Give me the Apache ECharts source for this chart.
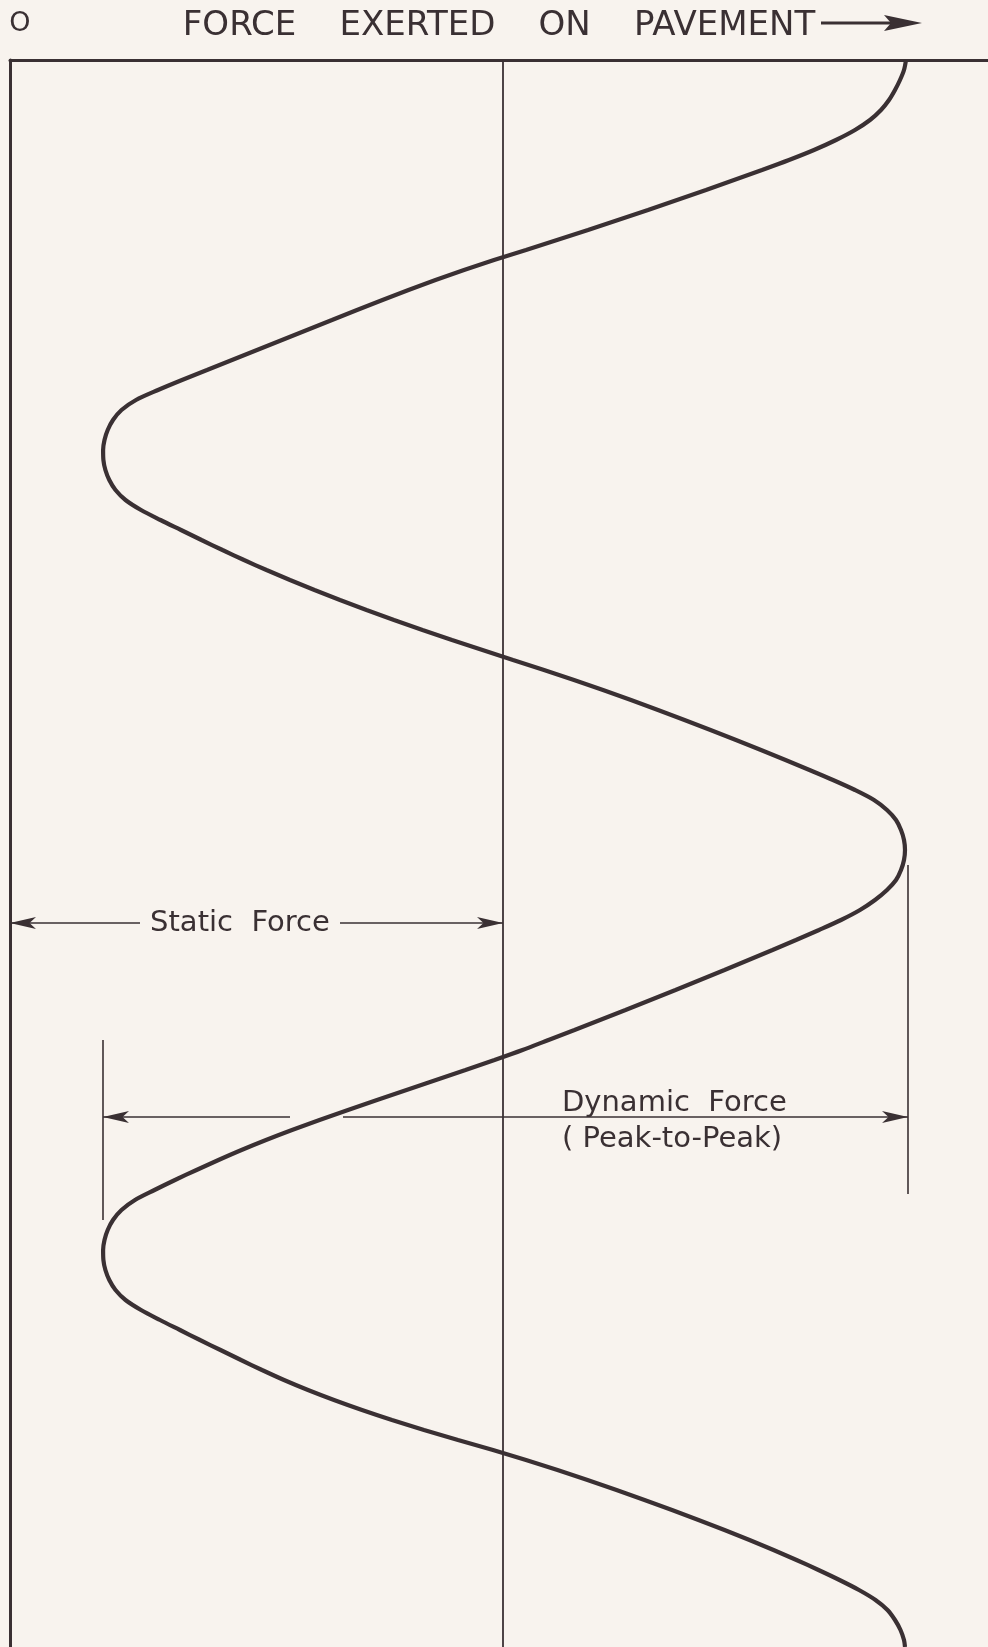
<!DOCTYPE html>
<html>
<head>
<meta charset="utf-8">
<title>Force exerted on pavement</title>
<script src="https://cdn.jsdelivr.net/npm/echarts@6/dist/echarts.min.js"></script>
<style>
html, body { margin: 0; padding: 0; background: #f8f3ee; }
#chart { width: 988px; height: 1647px; }
</style>
</head>
<body>
<div id="chart"></div>
<script>
var INK = '#3a3033';
var BG = '#f8f3ee';
var FONT = 'DejaVu Sans';

// force (static force = 493 units), time runs down the page
var time = [0, 10, 20, 30, 40, 50, 60, 70, 80, 90,
    100, 110, 120, 130, 140, 150, 160, 170, 180, 190,
    200, 210, 220, 230, 240, 250, 260, 270, 280, 290,
    300, 310, 320, 330, 340, 350, 360, 370, 380, 390,
    400, 410, 420, 430, 440, 450, 460, 470, 480, 490,
    500, 510, 520, 530, 540, 550, 560, 570, 580, 590,
    600, 610, 620, 630, 640, 650, 660, 670, 680, 690,
    700, 710, 720, 730, 740, 750, 760, 770, 780, 790,
    800, 810, 820, 830, 840, 850, 860, 870, 880, 890,
    900, 910, 920, 930, 940, 950, 960, 970, 980, 990,
    1000, 1010, 1020, 1030, 1040, 1050, 1060, 1070, 1080, 1090,
    1100, 1110, 1120, 1130, 1140, 1150, 1160, 1170, 1180, 1190,
    1200, 1210, 1220, 1230, 1240, 1250, 1260, 1270, 1280, 1290,
    1300, 1310, 1320, 1330, 1340, 1350, 1360, 1370, 1380, 1390,
    1400, 1410, 1420, 1430, 1440, 1450, 1460, 1470, 1480, 1490,
    1500, 1510, 1520, 1530, 1540, 1550, 1560, 1570, 1580, 1587];
var force = [896, 894, 890, 885, 879, 871, 860, 845, 826, 804,
    779, 752, 724, 696, 667, 638, 608, 578, 547, 516,
    484, 454, 425.5, 398.5, 372.5, 347, 322, 297, 272, 247,
    222, 197, 172, 148, 126, 111.5, 103, 97.7, 94.5, 93.1,
    93.4, 95.4, 99.3, 105.5, 115.5, 131, 150.5, 171, 191.5, 212.5,
    234, 256.5, 280, 304.5, 330, 356.5, 384, 412.5, 442, 472.5,
    503, 534, 564, 593, 621, 648, 674.5, 700.5, 726, 751,
    775.5, 799.5, 823, 845, 864, 877, 886, 891, 894, 895,
    894, 891, 886, 877, 865, 850, 831, 809, 786, 762.5,
    738.5, 714.5, 690, 665.5, 640.5, 615.5, 590, 564.5, 538.5, 512.5,
    484.5, 455.5, 426, 396.5, 367, 338, 309.5, 282, 256, 231.5,
    208.5, 186.5, 165, 144.5, 125, 111.5, 103, 97.7, 94.5, 93.1,
    93.4, 95.4, 99.3, 105.5, 115.5, 131, 150, 170, 190, 210.5,
    231, 252, 274, 298, 324, 352, 382, 414, 448, 483,
    516, 547.5, 577.5, 606.5, 634.5, 662, 688.5, 714.5, 739.5, 763.5,
    786.5, 808.5, 829.5, 849, 865.5, 877.5, 885, 890.5, 894, 895];

var staticForce = 493;
var forceMax = 978;
var timeMax = 1587;

// dimension lines: [force from, force to, time]
var staticDim = [[0, 130, 863], [330, 493, 863]];
var dynamicDim = [[93, 280, 1057], [333, 898, 1057]];
// extension lines: [force, time from, time to]
var extLines = [[93, 980, 1160], [898, 805, 1134]];

var curve = [];
for (var i = 0; i < force.length; i++) {
    curve.push([force[i], time[i]]);
}

var arrowSize = [9, 26];
var dimLines = [];
function addDim(seg, arrowAtStart) {
    dimLines.push([
        {coord: [seg[0], seg[2]], symbol: arrowAtStart ? 'arrow' : 'none', symbolSize: arrowSize},
        {coord: [seg[1], seg[2]], symbol: arrowAtStart ? 'none' : 'arrow', symbolSize: arrowSize}
    ]);
}
addDim(staticDim[0], true);
addDim(staticDim[1], false);
addDim(dynamicDim[0], true);
addDim(dynamicDim[1], false);
for (var j = 0; j < extLines.length; j++) {
    dimLines.push([{coord: [extLines[j][0], extLines[j][1]], symbol: 'none'},
                   {coord: [extLines[j][0], extLines[j][2]], symbol: 'none'}]);
}

function textLabel(align, vAlign) {
    return {
        show: true, position: [0, 0], align: align, verticalAlign: vAlign,
        formatter: '{b}', fontFamily: FONT, fontSize: 29, color: INK
    };
}

var dom = document.getElementById('chart');
var myChart = echarts.init(dom);
var option = {
    backgroundColor: BG,
    animation: false,
    grid: {left: 10, right: 0, top: 60, bottom: 0, outerBoundsMode: 'none', containLabel: false},
    xAxis: {
        type: 'value',
        position: 'top',
        min: 0,
        max: forceMax,
        name: 'FORCE    EXERTED    ON    PAVEMENT',
        nameLocation: 'middle',
        nameGap: 17,
        nameTextStyle: {fontFamily: FONT, fontSize: 34, color: INK},
        axisLine: {show: true, lineStyle: {color: INK, width: 3}},
        axisTick: {show: false},
        axisLabel: {show: false},
        splitLine: {show: false}
    },
    yAxis: {
        type: 'value',
        inverse: true,
        min: 0,
        max: timeMax,
        axisLine: {show: true, lineStyle: {color: INK, width: 3}},
        axisTick: {show: false},
        axisLabel: {show: false},
        splitLine: {show: false}
    },
    graphic: [
        {
            type: 'text',
            style: {x: 20, y: 24, text: 'O', align: 'center', verticalAlign: 'middle',
                     fontFamily: FONT, fontSize: 27, fill: INK}
        },
        {
            type: 'line',
            shape: {x1: 821, y1: 23, x2: 896, y2: 23},
            style: {stroke: INK, lineWidth: 3}
        },
        {
            type: 'polygon',
            shape: {points: [[884, 15], [922, 23], [884, 31], [891, 23]]},
            style: {fill: INK}
        }
    ],
    series: [
        {
            name: 'Force',
            type: 'line',
            data: curve,
            smooth: 0.3,
            showSymbol: false,
            symbol: 'none',
            lineStyle: {color: INK, width: 4.2},
            markLine: {
                silent: true,
                symbol: ['none', 'none'],
                label: {show: false},
                lineStyle: {color: INK, width: 1.8, type: 'solid'},
                data: [{xAxis: staticForce}]
            }
        },
        {
            name: 'Dimensions',
            type: 'line',
            data: [],
            markLine: {
                silent: true,
                symbol: ['none', 'none'],
                label: {show: false},
                lineStyle: {color: INK, width: 1.6, type: 'solid'},
                data: dimLines
            },
            markPoint: {
                silent: true,
                symbol: 'circle',
                symbolSize: 0,
                data: [
                    {name: 'Static  Force', coord: [230, 863], label: textLabel('center', 'middle')},
                    {name: 'Dynamic  Force', coord: [552, 1058], label: textLabel('left', 'bottom')},
                    {name: '( Peak-to-Peak)', coord: [552, 1065], label: textLabel('left', 'top')}
                ]
            }
        }
    ]
};
if (option && typeof option === 'object') {
    myChart.setOption(option, true);
}
</script>
</body>
</html>
